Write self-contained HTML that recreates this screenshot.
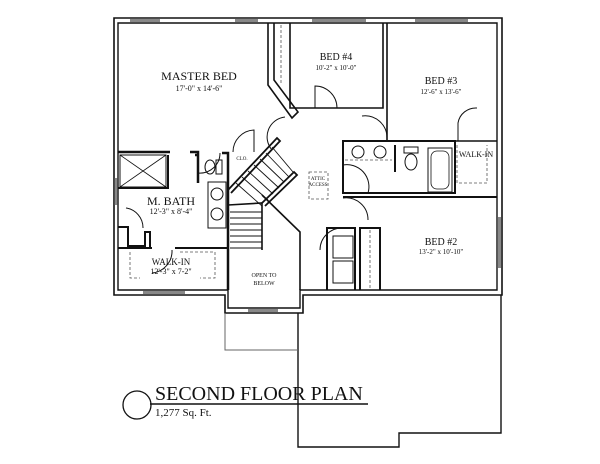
<!DOCTYPE html>
<html><head><style>
html,body{margin:0;padding:0;background:#fff;width:600px;height:464px;overflow:hidden}
svg{display:block}
text{font-family:"Liberation Serif",serif;fill:#111}
</style></head><body>
<svg width="600" height="464" viewBox="0 0 600 464">
<g fill="none" stroke="#111">
<!-- outer walls -->
<path d="M114,18 H502 V295 H303 V313 H225 V295 H114 Z" stroke-width="1.6"/>
<path d="M118,23 H497 V290 H300 V308 H228 V290 H118 Z" stroke-width="1.4"/>
<!-- windows -->
<g stroke="#888" stroke-width="3">
<line x1="130" y1="20.5" x2="160" y2="20.5"/><line x1="235" y1="20.5" x2="258" y2="20.5"/>
<line x1="312" y1="20.5" x2="366" y2="20.5"/><line x1="415" y1="20.5" x2="468" y2="20.5"/>
<line x1="143" y1="292.5" x2="185" y2="292.5"/><line x1="248" y1="310.5" x2="278" y2="310.5"/>
<line x1="116" y1="178" x2="116" y2="205"/><line x1="499.5" y1="217" x2="499.5" y2="268"/>
</g>
<!-- garage / lower outline -->
<path d="M298,313 V447 H399 V433 H501 V295" stroke-width="1.4"/>
<path d="M225,313 V350 H298" stroke="#666" stroke-width="1"/>
<!-- master bed walls -->
<path d="M118,152 H170 M190,152 H198 V183" stroke-width="2.5"/>
<path d="M195,155 H198 M222,153 H228 V290" stroke-width="2.5"/>
<path d="M228,180 V290" stroke-width="1.5"/>
<!-- master right / bed4 left -->
<path d="M268,23 V85 L292,118 L298,112 L274,80 V23" stroke-width="1.6"/>
<path d="M290,23 V108 H383 V23 M387,23 V141 H497" stroke-width="1.6"/>
<line x1="281" y1="25" x2="281" y2="83" stroke="#555" stroke-dasharray="3,2" stroke-width="0.8"/>
<!-- door arcs -->
<path d="M315,108 V86 A22,22 0 0 1 337,108" stroke-width="1"/>
<path d="M285,117 A20,20 0 0 0 272,150" stroke-width="1"/>
<path d="M254,152 V130 A22,22 0 0 0 233,152" stroke-width="1"/>
<path d="M198,173 A20,20 0 0 0 220,153" stroke-width="1"/>
<path d="M362,116 A22,22 0 0 1 387,138" stroke-width="1"/>
<path d="M458,141 V123 A18,18 0 0 1 477,108" stroke-width="1"/>
<path d="M343,165 A22,22 0 0 1 368,193" stroke-width="1"/>
<path d="M343,198 A22,22 0 0 1 368,220" stroke-width="1"/>
<path d="M320,250 A22,22 0 0 1 342,228" stroke-width="1"/>
<path d="M152,273 A22,22 0 0 0 172,250" stroke-width="1"/>
<path d="M126,208 A20,20 0 0 1 143,228" stroke-width="1"/>
<!-- hall bath -->
<path d="M343,141 H455 V193 H343 Z M343,197 H497" stroke-width="2"/>
<line x1="395" y1="145" x2="395" y2="172" stroke-width="2"/>
<path d="M345,160 H392" stroke="#555" stroke-dasharray="3,2" stroke-width="0.8"/>
<circle cx="358" cy="152" r="6"/><circle cx="380" cy="152" r="6"/>
<ellipse cx="411" cy="162" rx="6" ry="8"/><rect x="404" y="147" width="14" height="6"/>
<rect x="428" y="148" width="24" height="44" stroke-width="1"/><rect x="431" y="151" width="18" height="38" rx="6" stroke-width="0.8"/>
<path d="M457,145 V183 H487 V145" stroke="#555" stroke-dasharray="3,2" stroke-width="0.8"/>
<!-- bed2 / laundry / linen -->
<path d="M327,290 V228 H355 V290 M360,290 V228 H380 V290" stroke-width="2"/>
<line x1="370" y1="230" x2="370" y2="288" stroke="#555" stroke-dasharray="3,2" stroke-width="0.8"/>
<rect x="333" y="236" width="20" height="22" stroke-width="1"/><rect x="333" y="261" width="20" height="22" stroke-width="1"/>
<!-- stairs -->
<path d="M228,190 L277,138 L280,141 L231,193 M262,203 L294,172 L297,175 L265,206" stroke-width="1.8"/>
<path d="M262,195 L300,232 V290 M228,205 L262,203 V250" stroke-width="1.6"/>
<g stroke-width="0.9">
<line x1="236" y1="183" x2="262" y2="206"/><line x1="242" y1="177" x2="268" y2="200"/>
<line x1="248" y1="171" x2="273" y2="194"/><line x1="254" y1="165" x2="279" y2="188"/>
<line x1="260" y1="159" x2="284" y2="182"/><line x1="266" y1="153" x2="289" y2="177"/>
<line x1="272" y1="147" x2="293" y2="172"/>
<line x1="230" y1="212" x2="262" y2="212"/><line x1="230" y1="218" x2="262" y2="218"/>
<line x1="230" y1="224" x2="262" y2="224"/><line x1="230" y1="230" x2="262" y2="230"/>
<line x1="230" y1="236" x2="262" y2="236"/><line x1="230" y1="242" x2="262" y2="242"/>
<line x1="230" y1="248" x2="262" y2="248"/>
</g>
<rect x="309" y="172" width="19" height="27" stroke="#555" stroke-dasharray="3,2" stroke-width="0.8"/>
<!-- master bath -->
<rect x="120" y="155" width="46" height="32" stroke-width="1"/>
<path d="M120,155 L166,187 M166,155 L120,187" stroke-width="0.8"/>
<path d="M168,155 V188 H118" stroke-width="2"/>
<ellipse cx="210" cy="167" rx="5" ry="7"/><rect x="216" y="160" width="6" height="14"/>
<rect x="208" y="182" width="18" height="46" stroke-width="1"/>
<circle cx="217" cy="194" r="6"/><circle cx="217" cy="214" r="6"/>
<path d="M118,227 H128 V246 H145 V232 H150 V248" stroke-width="2"/>
<path d="M118,248 H152 M175,248 H228" stroke-width="2"/>
<path d="M130,252 V278 H140 M180,252 H215 V278 H200" stroke="#555" stroke-dasharray="3,2" stroke-width="0.8"/>
</g>
<g text-anchor="middle">
<text x="199" y="80" font-size="12">MASTER BED</text>
<text x="199" y="91" font-size="8">17'-0" x 14'-6"</text>
<text x="336" y="60" font-size="10">BED #4</text>
<text x="336" y="70" font-size="7">10'-2" x 10'-0"</text>
<text x="441" y="84" font-size="10">BED #3</text>
<text x="441" y="94" font-size="7">12'-6" x 13'-6"</text>
<text x="476" y="157" font-size="8">WALK-IN</text>
<text x="441" y="245" font-size="10">BED #2</text>
<text x="441" y="254" font-size="7">13'-2" x 10'-10"</text>
<text x="171" y="205" font-size="12">M. BATH</text>
<text x="171" y="214" font-size="8">12'-3" x 8'-4"</text>
<text x="171" y="265" font-size="9">WALK-IN</text>
<text x="171" y="274" font-size="8">12'-3" x 7-2"</text>
<text x="264" y="277" font-size="6">OPEN TO</text>
<text x="264" y="285" font-size="6">BELOW</text>
<text x="242" y="160" font-size="5">CLO.</text>
<text x="318" y="180" font-size="5">ATTIC</text>
<text x="318" y="186" font-size="5">ACCESS</text>
</g>
<circle cx="137" cy="405" r="14" fill="none" stroke="#111" stroke-width="1.3"/>
<line x1="150" y1="404" x2="368" y2="404" stroke="#111" stroke-width="1.5"/>
<text x="155" y="400" font-size="20">SECOND FLOOR PLAN</text>
<text x="155" y="416" font-size="11">1,277 Sq. Ft.</text>
</svg>
</body></html>
